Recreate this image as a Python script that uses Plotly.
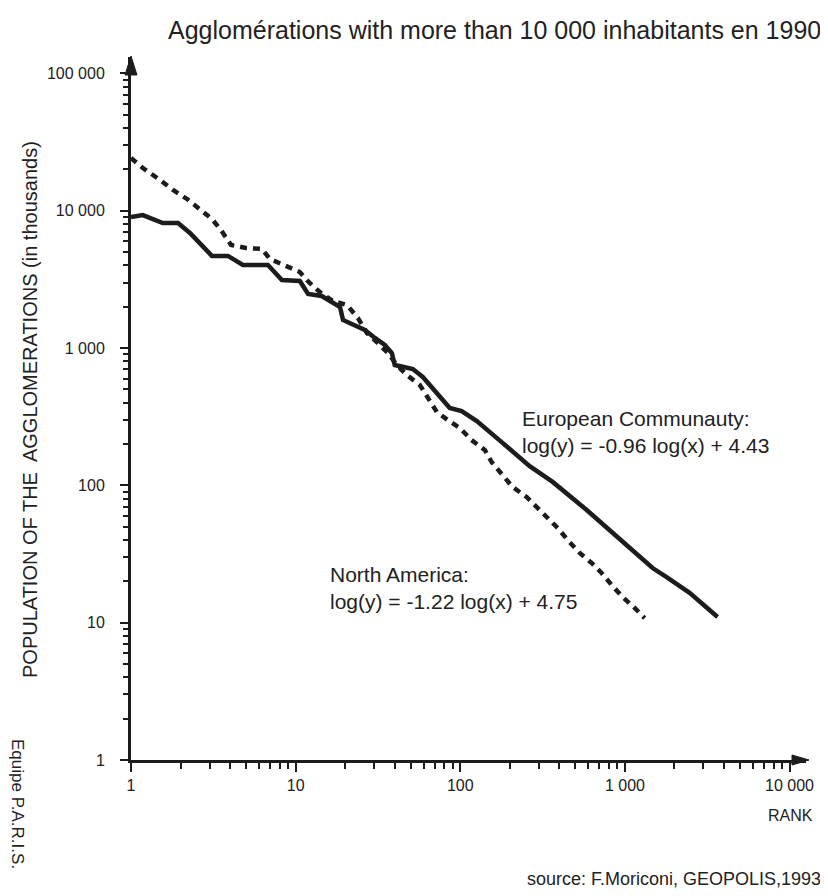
import plotly.graph_objects as go

# European Community (solid line): rank, population (thousands)
ec_rank = [1, 1.18, 1.56, 1.93, 2.28, 3.10, 3.88, 4.78, 6.79, 8.25, 10.6, 11.9, 14.4, 16.8,
           18.6, 19.4, 22.3, 26.3, 30.3, 34.8, 38.4, 40.0, 45.4, 51.5, 59.2, 68.1, 86.3,
           102, 126, 167, 264, 364, 586, 929, 1473, 1792, 2472, 3656]
ec_pop = [9016, 9310, 8150, 8150, 6890, 4690, 4690, 4030, 4030, 3133, 3083, 2477, 2395, 2168,
          1991, 1602, 1473, 1355, 1186, 1054, 921, 753, 728, 704, 616, 512, 366,
          348, 294, 221, 138, 106, 66.2, 40.7, 25.0, 21.5, 16.5, 11.0]

# North America (dashed line)
na_rank = [1, 1.18, 1.50, 1.80, 2.19, 2.62, 3.10, 3.52, 4.05, 4.99, 6.24, 6.98, 8.37, 10.6,
           12.0, 14.0, 16.8, 20.5, 23.9, 27.1, 31.1, 36.3, 41.2, 47.3, 56.8, 65.3, 72.0,
           84.0, 99.3, 117, 141, 155, 179, 208, 253, 291, 340, 391, 449, 531, 628, 722,
           831, 968, 1146, 1318]
na_pop = [24250, 20500, 16760, 14170, 12190, 10310, 8720, 7245, 5636, 5357, 5270, 4457, 4030, 3583,
          3030, 2563, 2204, 2060, 1657, 1288, 1108, 921, 753, 637, 539, 419, 343,
          299, 262, 214, 181, 148, 119, 97.3, 82.3, 69.6, 58.9, 48.9, 40.0, 32.2, 27.2, 23.0,
          18.8, 15.4, 12.8, 10.8]

x_major = [1, 10, 100, 1000, 10000]
x_major_text = ["1", "10", "100", "1 000", "10 000"]
y_major = [1, 10, 100, 1000, 10000, 100000]
y_major_text = ["1", "10", "100", "1 000", "10 000", "100 000"]


def minors(decades):
    out = []
    for d in decades:
        for k in range(2, 10):
            out.append(k * d)
    return out


FONT = "Liberation Sans, Arial, sans-serif"
INK = "#1c1c1c"
TXT = "#222"

# the page body has an 8px margin: the figure is drawn at (8, 8) in the window
OFF = 8
W, H = 828 - OFF, 896 - OFF

# plot area in window pixels
L, R, T, B = 131, 806, 57, 760
PW, PH = R - L, B - T


def px(xp):
    return (xp - L) / PW


def py(yp):
    return (B - yp) / PH


fig = go.Figure()
fig.add_trace(go.Scatter(x=na_rank, y=na_pop, mode="lines",
                         line=dict(color=INK, width=4.5, dash="7px,6px"),
                         name="North America", showlegend=False))
fig.add_trace(go.Scatter(x=ec_rank, y=ec_pop, mode="lines",
                         line=dict(color=INK, width=4.5),
                         name="European Community", showlegend=False))

fig.update_xaxes(type="log", range=[0, 4.1], showline=True, linecolor=INK, linewidth=3,
                 showgrid=False, zeroline=False, ticks="outside", ticklen=9, tickwidth=2,
                 tickcolor=INK, tickvals=x_major, ticktext=x_major_text,
                 tickfont=dict(family=FONT, size=16, color=TXT),
                 minor=dict(tickvals=minors([1, 10, 100, 1000]), ticks="outside",
                            ticklen=6, tickwidth=2, tickcolor=INK, showgrid=False))
fig.update_yaxes(type="log", range=[0, 5.12], showline=True, linecolor=INK, linewidth=3,
                 showgrid=False, zeroline=False, ticks="outside", ticklen=8, tickwidth=2,
                 tickcolor=INK, tickvals=y_major, ticktext=y_major_text,
                 tickfont=dict(family=FONT, size=16, color=TXT), ticklabelstandoff=12,
                 minor=dict(tickvals=minors([1, 10, 100, 1000, 10000]), ticks="outside",
                            ticklen=5, tickwidth=2, tickcolor=INK, showgrid=False))

# arrow heads
shapes = [
    dict(type="path", xref="paper", yref="paper",
         path=f"M {px(792)} {py(765)} L {px(809)} {py(760)} L {px(792)} {py(755)} Z",
         fillcolor=INK, line=dict(color=INK, width=1)),
    dict(type="path", xref="paper", yref="paper",
         path=f"M {px(125)} {py(75)} L {px(131)} {py(56)} L {px(137)} {py(75)} Z",
         fillcolor=INK, line=dict(color=INK, width=1)),
]

ann = [
    dict(text="Agglomérations with more than 10 000 inhabitants en 1990", xref="paper", yref="paper",
         x=px(823), y=py(30), xanchor="right", yanchor="middle", showarrow=False,
         font=dict(family=FONT, size=25, color=TXT)),
    dict(text="POPULATION OF THE  AGGLOMERATIONS (in thousands)", xref="paper", yref="paper",
         x=px(30), y=py(410), xanchor="center", yanchor="middle", textangle=-90,
         showarrow=False, font=dict(family=FONT, size=20, color=TXT)),
    dict(text="European Communauty:<br>log(y) = -0.96 log(x) + 4.43", xref="paper", yref="paper",
         x=px(520), y=py(432), xanchor="left", yanchor="middle", align="left",
         showarrow=False, font=dict(family=FONT, size=21, color=TXT)),
    dict(text="North America:<br>log(y) = -1.22 log(x) + 4.75", xref="paper", yref="paper",
         x=px(328), y=py(588), xanchor="left", yanchor="middle", align="left",
         showarrow=False, font=dict(family=FONT, size=21, color=TXT)),
    dict(text="RANK", xref="paper", yref="paper", x=px(790), y=py(816),
         xanchor="center", yanchor="middle", showarrow=False,
         font=dict(family=FONT, size=16, color=TXT)),
    dict(text="source: F.Moriconi, GEOPOLIS,1993", xref="paper", yref="paper",
         x=px(823), y=py(879), xanchor="right", yanchor="middle",
         showarrow=False, font=dict(family=FONT, size=18, color=TXT)),
    dict(text="Equipe P.A.R.I.S.", xref="paper", yref="paper", x=px(18),
         y=py(804), xanchor="center", yanchor="middle", textangle=90,
         showarrow=False, font=dict(family=FONT, size=17, color=TXT)),
]

fig.update_layout(width=W, height=H, paper_bgcolor="white", plot_bgcolor="white",
                  margin=dict(l=L - OFF, r=(W + OFF) - R, t=T - OFF, b=(H + OFF) - B),
                  shapes=shapes, annotations=ann, showlegend=False)

fig.write_html("out.html")
